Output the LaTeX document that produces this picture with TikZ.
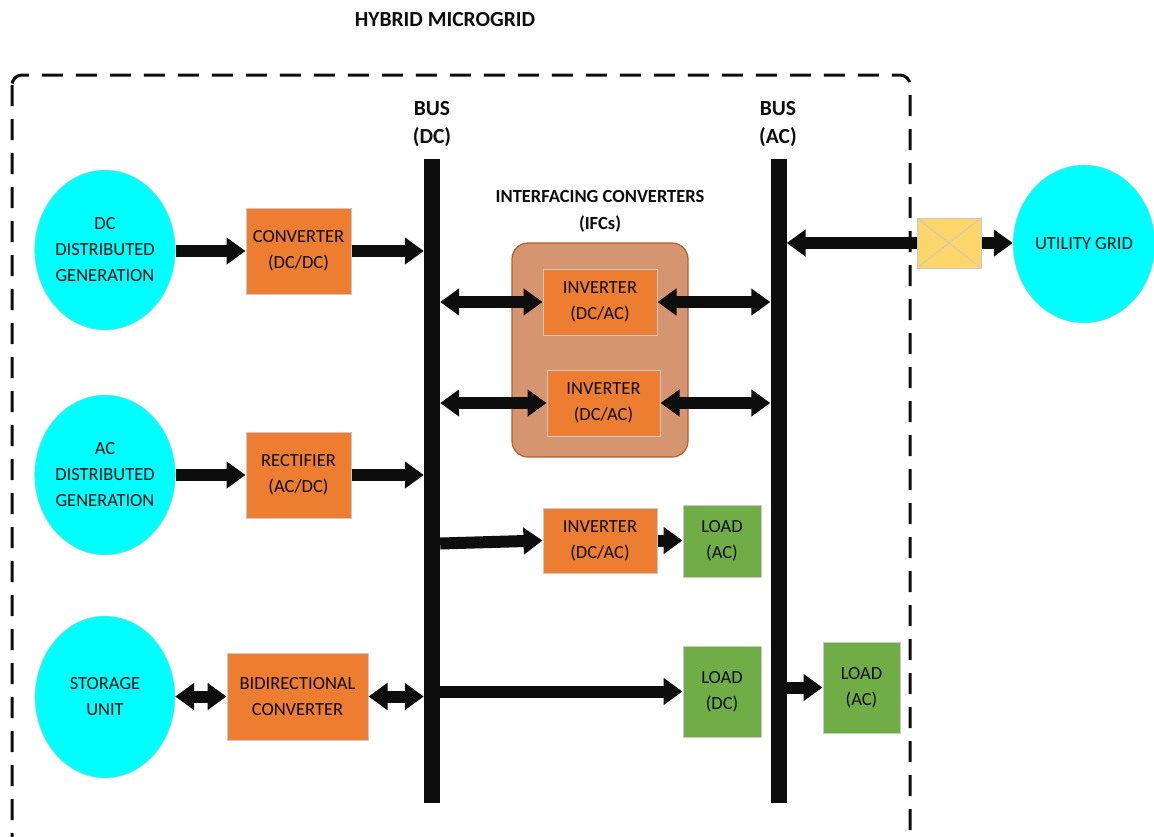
\documentclass[tikz,border=0pt]{standalone}
\usepackage{fontspec}
\setmainfont{Carlito}
\usetikzlibrary{arrows.meta,calc,shapes.geometric}
\definecolor{Aqua}{HTML}{00FFFF}
\definecolor{Amber}{HTML}{ED7D31}
\definecolor{Leaf}{HTML}{70AD47}
\definecolor{Clay}{HTML}{D49570}
\definecolor{ClayEdge}{HTML}{B0612C}
\definecolor{Straw}{HTML}{FCD66B}
\definecolor{Edge}{HTML}{C9C9C9}
\definecolor{Ink}{HTML}{0D0D0D}
\tikzset{
  txt/.style={font=\fontsize{18.5}{26}\selectfont,align=center,text=Ink},
  hdr/.style={font=\fontsize{21.5}{28}\selectfont\bfseries,align=center,text=Ink},
  source/.style={txt,ellipse,draw=Edge,fill=Aqua,inner sep=0pt,minimum width=140pt,minimum height=160pt},
  convbox/.style={txt,rectangle,draw=Edge,line width=1pt,fill=Amber,inner sep=0pt},
  loadbox/.style={txt,rectangle,draw=Edge,line width=1pt,fill=Leaf,inner sep=0pt,minimum width=78pt},
  busbar/.style={rectangle,fill=Ink,inner sep=0pt,minimum width=16pt,minimum height=644pt},
  flow/.style={line width=12pt,Ink,-{Triangle[length=19pt,width=26pt]}},
  flowboth/.style={line width=12pt,Ink,{Triangle[length=19pt,width=26pt]}-{Triangle[length=19pt,width=26pt]}},
}
\begin{document}
\begin{tikzpicture}[x=1pt,y=-1pt]
      \useasboundingbox (0,0) rectangle (1154,836);
      \clip (0,0) rectangle (1154,836);
      \fill[white] (0,0) rectangle (1154,836);
      \draw[Ink,line width=3pt,rounded corners=10pt,dash pattern=on 21pt off 13pt] (12,75) rectangle (910,846);
      \node[hdr] (title) at (445,20) {HYBRID MICROGRID};
      \node[busbar] (dcbus) at (432,481) {};
      \node[busbar] (acbus) at (778.5,481) {};
      \node[hdr] (dclbl) at (432,124) {BUS\\(DC)};
      \node[hdr] (aclbl) at (778,124) {BUS\\(AC)};
      \node[hdr,font=\fontsize{18.5}{27}\selectfont\bfseries] (ifclbl) at (600,211) {INTERFACING CONVERTERS\\(IFCs)};
      \node[source] (dcgen) at (105,250) {DC\\DISTRIBUTED\\GENERATION};
      \node[source] (acgen) at (105,475) {AC\\DISTRIBUTED\\GENERATION};
      \node[source,minimum height=162pt] (store) at (105,697) {STORAGE\\UNIT};
      \node[source,minimum width=142pt,minimum height=158pt] (grid) at (1084,244) {UTILITY GRID};
      \node[convbox,minimum width=105pt,minimum height=86pt] (conv) at (298.5,251) {CONVERTER\\(DC/DC)};
      \node[convbox,minimum width=105pt,minimum height=86pt] (rect) at (298.5,475) {RECTIFIER\\(AC/DC)};
      \node[convbox,minimum width=141pt,minimum height=87pt] (bidir) at (297.5,696.5) {BIDIRECTIONAL\\CONVERTER};
      \node[rectangle,rounded corners=16pt,draw=ClayEdge,line width=1.2pt,fill=Clay,minimum width=176pt,minimum height=214pt] (ifc) at (600,350) {};
      \node[convbox,minimum width=114pt,minimum height=66pt] (inv1) at (600,302) {INVERTER\\(DC/AC)};
      \node[convbox,minimum width=113pt,minimum height=66pt] (inv2) at (603.5,403) {INVERTER\\(DC/AC)};
      \node[convbox,minimum width=114pt,minimum height=65pt] (inv3) at (600,540.5) {INVERTER\\(DC/AC)};
      \node[loadbox,minimum height=72pt] (ldac) at (722,541) {LOAD\\(AC)};
      \node[loadbox,minimum height=91pt] (lddc) at (722,691.5) {LOAD\\(DC)};
      \node[loadbox,minimum width=77pt,minimum height=91pt] (ldac2) at (861.5,687.5) {LOAD\\(AC)};
      \node[rectangle,draw=Edge,line width=1pt,fill=Straw,minimum width=64pt,minimum height=50pt] (sw) at (949,243) {};
      \draw[Edge,line width=0.8pt] (sw.north west) -- (sw.south east) (sw.north east) -- (sw.south west);
      \draw[flow] (conv.west -| dcgen.east) -- (conv.west);
      \draw[flow] (conv.east) -- (conv.east -| dcbus.west);
      \draw[flow] (rect.west -| acgen.east) -- (rect.west);
      \draw[flow] (rect.east) -- (rect.east -| dcbus.west);
      \draw[flowboth] (bidir.west -| store.east) -- (bidir.west);
      \draw[flowboth] (bidir.east) -- (bidir.east -| dcbus.west);
      \draw[flowboth] (inv1.west -| dcbus.east) -- (inv1.west);
      \draw[flowboth] (inv1.east) -- (inv1.east -| acbus.west);
      \draw[flowboth] (inv2.west -| dcbus.east) -- (inv2.west);
      \draw[flowboth] (inv2.east) -- (inv2.east -| acbus.west);
      \draw[flow] ($(inv3.west -| dcbus.east)+(0,3)$) -- (inv3.west);
      \draw[flow] (inv3.east) -- (inv3.east -| ldac.west);
      \draw[flow] (lddc.west -| dcbus.east) -- (lddc.west);
      \draw[flow] (ldac2.west -| acbus.east) -- (ldac2.west);
      \draw[flow] (sw.west) -- (sw.west -| acbus.east);
      \draw[flow] (sw.east) -- (sw.east -| grid.west);
    \end{tikzpicture}
\end{document}
